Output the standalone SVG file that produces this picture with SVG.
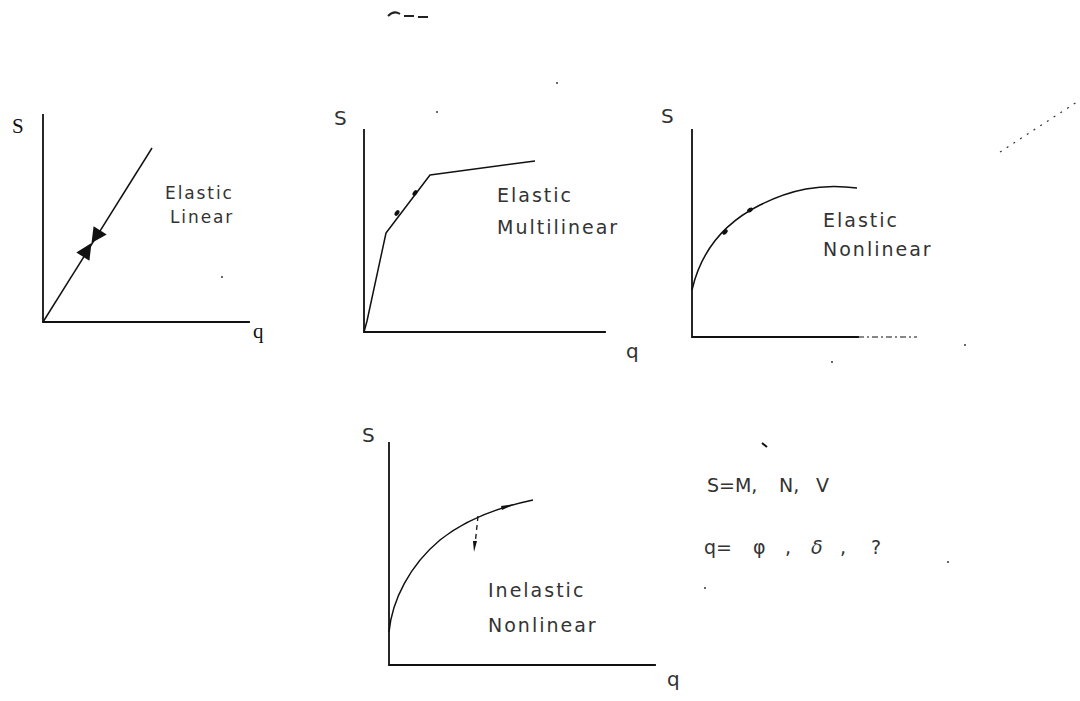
<svg xmlns="http://www.w3.org/2000/svg" width="1080" height="701" viewBox="0 0 1080 701">
<style>
.ax{stroke:#111;stroke-width:1.8;fill:none;stroke-linecap:square}
.cv{stroke:#111;stroke-width:1.5;fill:none;stroke-linejoin:round}
.lbl{font-family:"DejaVu Sans","Liberation Sans",sans-serif;font-size:19px;letter-spacing:2px;fill:#333}
.sm{font-size:17px;letter-spacing:1.9px}
.ser{font-family:"Liberation Serif","DejaVu Serif",serif;font-size:21px;fill:#111}
.axl{font-family:"DejaVu Sans","Liberation Sans",sans-serif;font-size:20px;fill:#333}
.lg{font-family:"DejaVu Sans","Liberation Sans",sans-serif;font-size:19px;fill:#333}
.dot{fill:#111}
</style>
<rect width="1080" height="701" fill="#fff"/>
<g id="panel-elastic-linear">
<path class="ax" d="M43,115 V322 H249"/>
<text class="ser" x="12" y="133">S</text>
<text class="ser" x="253" y="338">q</text>
<text class="lbl sm" x="165" y="199">Elastic</text>
<text class="lbl sm" x="170" y="223">Linear</text>
</g>
<g id="panel-elastic-multilinear">
<path class="ax" d="M364,130 V332 H605"/>
<text class="axl" x="334" y="125">S</text>
<text class="axl" x="626" y="358">q</text>
<text class="lbl" x="497" y="202">Elastic</text>
<text class="lbl" x="497" y="234">Multilinear</text>
</g>
<g id="panel-elastic-nonlinear">
<path class="ax" d="M692,130 V337 H858"/>
<path d="M858,337 H917" stroke="#111" stroke-width="1.2" stroke-dasharray="6 3 2 3"/>
<text class="axl" x="661" y="123">S</text>
<text class="lbl" x="823" y="227">Elastic</text>
<text class="lbl" x="823" y="256">Nonlinear</text>
</g>
<g id="panel-inelastic-nonlinear">
<path class="ax" d="M389,443 V665 H655"/>
<text class="axl" x="362" y="442">S</text>
<text class="axl" x="667" y="686">q</text>
<text class="lbl" x="488" y="597">Inelastic</text>
<text class="lbl" x="488" y="632">Nonlinear</text>
</g>
<g id="legend">
<text class="lg" x="707" y="492">S=M,</text>
<text class="lg" x="779" y="492">N,</text>
<text class="lg" x="816" y="492">V</text>
<text class="lg" x="704" y="554">q=</text>
<text class="lg" x="753" y="554">φ</text>
<text class="lg" x="785" y="554">,</text>
<text class="lg" x="811" y="554" style="font-style:italic">δ</text>
<text class="lg" x="840" y="554">,</text>
<text class="lg" x="871" y="554">?</text>
</g>
<g id="connectors">
<path class="cv" d="M43,322 L152,148"/>
<polygon class="dot" points="91.5,243 106.7,234.4 93.6,226.2"/>
<polygon class="dot" points="91.5,243 89.4,260.7 76.3,252.5"/>
<path class="cv" d="M364,332 L367,321 L386,233 L430,175 L535,161"/>
<ellipse class="dot" cx="397" cy="213" rx="2" ry="3.2" transform="rotate(37 397 213)"/>
<ellipse class="dot" cx="415" cy="193" rx="2" ry="3.2" transform="rotate(37 415 193)"/>
<path class="cv" d="M692,290 C700,255 720,225 760,205 C790,190 820,183 857,188"/>
<ellipse class="dot" cx="725" cy="232" rx="2" ry="3.2" transform="rotate(45 725 232)"/>
<ellipse class="dot" cx="750" cy="210" rx="2" ry="3.2" transform="rotate(55 750 210)"/>
<path class="cv" d="M389,632 C392,600 410,565 440,540 C465,520 495,508 533,500"/>
<polygon class="dot" points="515,504 501,506 502,510"/>
<path d="M478,516 L475,545" stroke="#111" stroke-width="1.3" stroke-dasharray="5 4"/>
<polygon class="dot" points="474,552 473,541 477,541"/>
</g>
<g id="specks" fill="#222">
<path d="M388,16 q6,-6 12,-2 M404,16 h10 M418,17 h10" stroke="#222" stroke-width="2" fill="none"/>
<path d="M1000,152 L1080,100" stroke="#333" stroke-width="1.2" stroke-dasharray="2 6" fill="none"/>
<circle cx="222" cy="277" r="0.9"/>
<circle cx="557" cy="83" r="0.9"/>
<circle cx="437" cy="112" r="0.9"/>
<circle cx="965" cy="345" r="0.9"/>
<circle cx="832" cy="362" r="0.9"/>
<circle cx="948" cy="562" r="0.9"/>
<circle cx="705" cy="588" r="0.9"/>
<path d="M762,443 l5,4" stroke="#111" stroke-width="2"/>
</g>
</svg>
